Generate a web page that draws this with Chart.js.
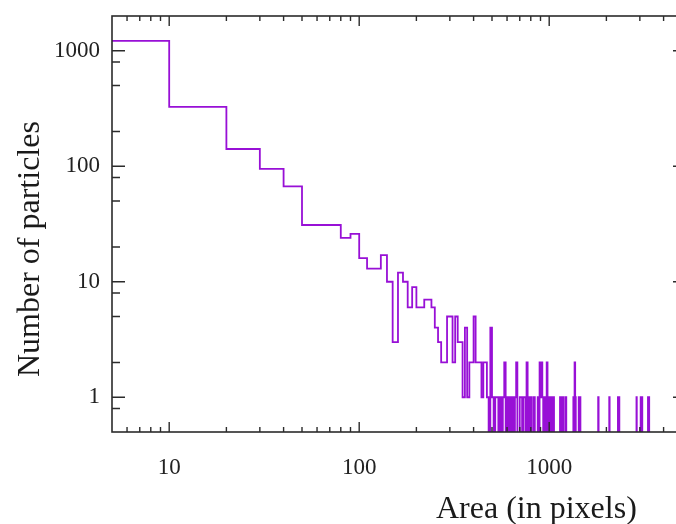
<!DOCTYPE html>
<html>
<head>
<meta charset="utf-8">
<script src="https://cdn.jsdelivr.net/npm/chart.js@4/dist/chart.umd.min.js"></script>
<style>
  html, body { margin: 0; padding: 0; background: #fff; overflow: hidden; }
  #wrap { width: 690px; height: 524px; }
</style>
</head>
<body>
<div id="wrap"><canvas id="hist"></canvas></div>
<script>
"use strict";

// histogram of particle areas, bins of 10 pixels
const binWidth = 10;

// counts of the bins from 0 up to 500
const headCounts = [
  1220, 327, 141, 95, 67, 31, 31, 31, 24, 26,
  16, 13, 13, 17, 10, 3, 12, 10, 6, 9,
  6, 6, 7, 7, 6, 4, 3, 2, 2, 5,
  5, 2, 5, 3, 3, 1, 4, 1, 2, 2,
  5, 2, 2, 2, 1, 2, 2, 1, 0, 4
];

// above 500 only the bins that are not empty (bin start, count)
const tailBins = [
  500, 520, 530, 550, 570, 580, 600, 620, 640, 660, 670,
  700, 710, 730, 740, 760, 780, 800, 830, 870, 890, 900, 910, 920,
  940, 960, 970, 990, 1020, 1050, 1140, 1160, 1180, 1220,
  1340, 1360, 1370, 1430, 1450, 1810, 2070, 2300, 2330,
  2880, 3030, 3080, 3310, 3350
];
const tailCounts = [
  1, 1, 1, 1, 1, 2, 1, 1, 1, 1, 2,
  1, 1, 1, 1, 2, 1, 1, 1, 1, 2, 1, 2, 1,
  1, 1, 2, 1, 1, 1, 1, 1, 1, 1,
  1, 2, 1, 1, 1, 1, 1, 1, 1,
  1, 1, 1, 1, 1
];
const tailEnd = 3400;

// axes
const xMin = 5, xMax = 5000;
const yMin = 0.5, yMax = 2000;
const xMajorTicks = [10, 100, 1000];
const xTickLabels = ['10', '100', '1000'];
const xMinorTicks = [6, 7, 8, 9, 20, 30, 40, 50, 60, 70, 80, 90,
  200, 300, 400, 500, 600, 700, 800, 900, 2000, 3000, 4000];
const yMajorTicks = [1, 10, 100, 1000];
const yTickLabels = ['1', '10', '100', '1000'];
const yMinorTicks = [0.8, 2, 5, 8, 20, 50, 80, 200, 500, 800];

const xTitle = 'Area (in pixels)';
const yTitle = 'Number of particles';

// empty bins are drawn below the axis so the step drops out of the frame
const emptyLevel = 0.2;

function buildPoints() {
  let pts = [];
  headCounts.forEach(function(c, i) {
    pts.push({ x: Math.max(i * binWidth, xMin), y: c });
  });
  for (let b = headCounts.length * binWidth; b <= tailEnd; b += binWidth) {
    let k = tailBins.indexOf(b);
    pts.push({ x: b, y: k >= 0 ? tailCounts[k] : 0 });
  }
  return pts.map(function(p) {
    return { x: p.x, y: p.y > 0 ? p.y : emptyLevel };
  });
}

const serif = '"Liberation Serif", "Times New Roman", serif';

// frame with inward ticks on all four sides, plus the axis titles
const frameAndTitles = {
  id: 'frameAndTitles',
  afterDatasetsDraw(chart) {
    const ctx = chart.ctx;
    const a = chart.chartArea;
    const xs = chart.scales.x, ys = chart.scales.y;
    ctx.save();
    ctx.strokeStyle = '#2b2b2b';
    ctx.lineWidth = 1.6;
    ctx.strokeRect(a.left, a.top, a.right - a.left, a.bottom - a.top);

    ctx.lineWidth = 1.4;
    ctx.beginPath();
    function xTick(v, len) {
      let px = xs.getPixelForValue(v);
      ctx.moveTo(px, a.bottom); ctx.lineTo(px, a.bottom - len);
      ctx.moveTo(px, a.top); ctx.lineTo(px, a.top + len);
    }
    function yTick(v, len, rightLen) {
      let py = ys.getPixelForValue(v);
      ctx.moveTo(a.left, py); ctx.lineTo(a.left + len, py);
      ctx.moveTo(a.right, py); ctx.lineTo(a.right - rightLen, py);
    }
    xMajorTicks.forEach(v => xTick(v, 10));
    xMinorTicks.forEach(v => xTick(v, 5));
    yMajorTicks.forEach(v => yTick(v, 13, 9));
    yMinorTicks.forEach(v => yTick(v, 8, 5));
    ctx.stroke();

    ctx.fillStyle = '#1a1a1a';
    ctx.font = '32px ' + serif;
    ctx.textAlign = 'left';
    ctx.textBaseline = 'alphabetic';
    ctx.fillText(xTitle, 436, 518);

    ctx.translate(38.5, 377);
    ctx.rotate(-Math.PI / 2);
    ctx.fillText(yTitle, 0, 0);
    ctx.restore();
  }
};

new Chart(document.getElementById('hist'), {
  type: 'line',
  data: {
    datasets: [{
      data: buildPoints(),
      stepped: 'before',
      borderColor: 'rgb(152, 16, 214)',
      borderWidth: 1.8,
      pointRadius: 0,
      fill: false
    }]
  },
  options: {
    responsive: true,
    maintainAspectRatio: false,
    animation: false,
    layout: { padding: { top: 16, right: 8, left: 0, bottom: 0 } },
    plugins: {
      legend: { display: false },
      tooltip: { enabled: false }
    },
    scales: {
      x: {
        type: 'logarithmic',
        min: xMin,
        max: xMax,
        grid: { display: false, drawTicks: false },
        border: { display: false },
        ticks: {
          autoSkip: false,
          maxRotation: 0,
          padding: 22,
          color: '#222',
          font: { family: serif, size: 23 },
          callback: (v, i) => xTickLabels[i]
        },
        afterBuildTicks: function(scale) {
          scale.ticks = xMajorTicks.map(v => ({ value: v }));
        },
        afterFit: function(scale) {
          scale.height = 92;
          scale.paddingLeft = 0;
          scale.paddingRight = 0;
        }
      },
      y: {
        type: 'logarithmic',
        min: yMin,
        max: yMax,
        grid: { display: false, drawTicks: false },
        border: { display: false },
        ticks: {
          autoSkip: false,
          padding: 12,
          color: '#222',
          font: { family: serif, size: 23 },
          callback: (v, i) => yTickLabels[i]
        },
        afterBuildTicks: function(scale) {
          scale.ticks = yMajorTicks.map(v => ({ value: v }));
        },
        afterFit: function(scale) {
          scale.width = 112;
          scale.paddingTop = 0;
          scale.paddingBottom = 0;
        }
      }
    }
  },
  plugins: [frameAndTitles]
});
</script>
</body>
</html>
